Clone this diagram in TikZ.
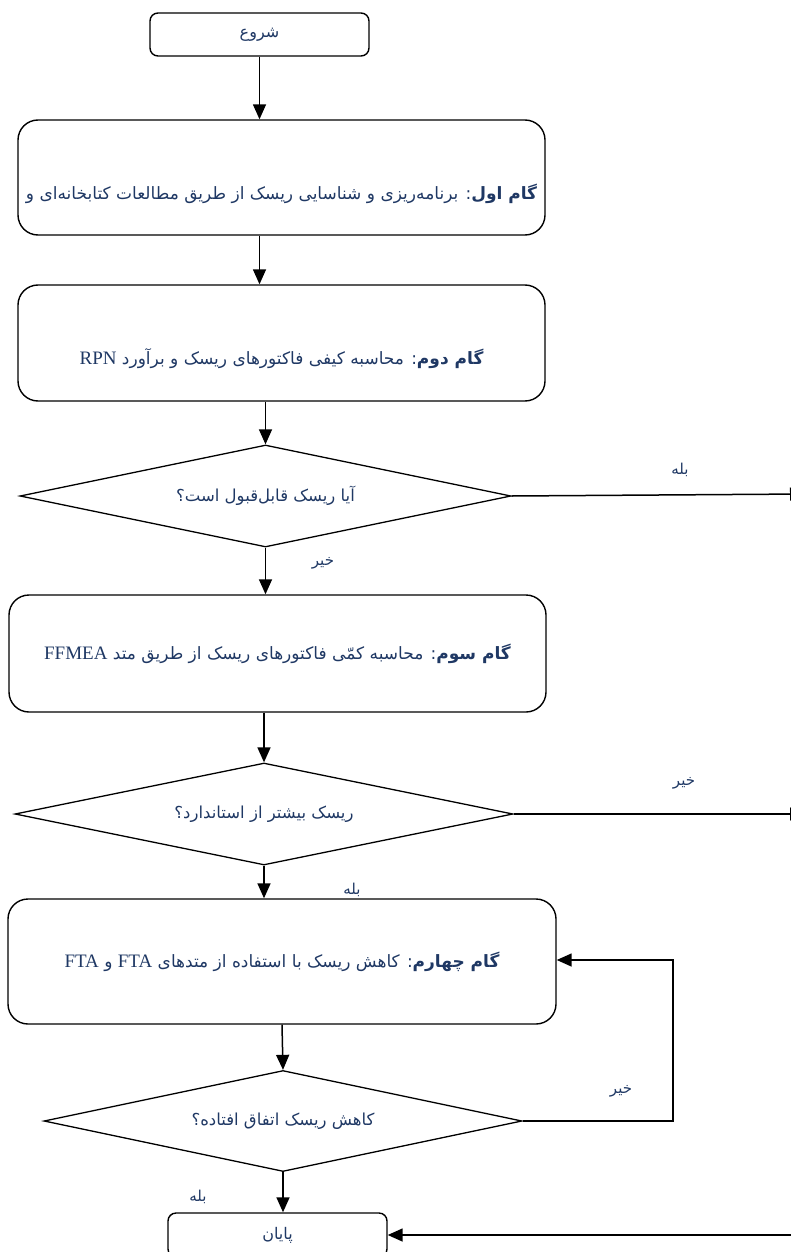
\documentclass[tikz,border=0pt]{standalone}
\usepackage{fontspec}
\setmainfont{Liberation Serif}
\newfontfamily\fa[Script=Arabic]{DejaVu Sans}
\TeXXeTstate=1
\usetikzlibrary{shapes.geometric,arrows.meta}
\definecolor{txt}{HTML}{1F3864}
\newcommand{\lat}[1]{{\normalfont\fontsize{19}{22}\selectfont\beginL #1\endL}}
\begin{document}
\begin{tikzpicture}[x=1pt,y=-1pt,
  box/.style={draw, line width=1.4pt, rounded corners=20pt, inner sep=0pt, text=txt, font=\fa\fontsize{17}{20}\selectfont},
  term/.style={draw, line width=1.4pt, rounded corners=8pt, inner sep=0pt, minimum width=219pt, text=txt, font=\fa\fontsize{16}{18}\selectfont},
  dec/.style={draw, diamond, aspect=4.8, line width=1.3pt, inner sep=0pt, text=txt, font=\fa\fontsize{16.5}{19}\selectfont},
  lbl/.style={text=txt, inner sep=0pt, font=\fa\fontsize{15}{17}\selectfont},
  arr/.style={line width=1.5pt, -{Triangle[length=15pt,width=13pt]}}]
\useasboundingbox (0,0) rectangle (791,1252);
% nodes
\node[term, minimum height=43pt] (start) at (259.5,34.5) {\beginR شروع\endR};
\node[box, minimum width=527pt, minimum height=115pt, text height=50pt, text depth=6pt] (s1) at (281.5,177.5) {\beginR{\bfseries گام اول}: برنامه‌ریزی و شناسایی ریسک از طریق مطالعات کتابخانه‌ای و\endR};
\node[box, minimum width=527pt, minimum height=116pt, text height=49pt, text depth=6pt] (s2) at (281.5,343) {\beginR{\bfseries گام دوم}: محاسبه کیفی فاکتورهای ریسک و برآورد \lat{RPN}\endR};
\node[dec, minimum width=491pt, minimum height=102pt] (d1) at (265.5,496) {\beginR آیا ریسک قابل‌قبول است؟\endR};
\node[box, minimum width=537pt, minimum height=117pt] (s3) at (277.5,653.5) {\beginR{\bfseries گام سوم}: محاسبه کمّی فاکتورهای ریسک از طریق متد \lat{FFMEA}\endR};
\node[dec, minimum width=498pt, minimum height=102pt] (d2) at (264,814) {\beginR ریسک بیشتر از استاندارد؟\endR};
\node[box, minimum width=548pt, minimum height=125pt] (s4) at (282,961.5) {\beginR{\bfseries گام چهارم}: کاهش ریسک با استفاده از متدهای \lat{FTA} و \lat{FTA}\endR};
\node[dec, minimum width=478pt, minimum height=101pt] (d3) at (283,1121) {\beginR کاهش ریسک اتفاق افتاده؟\endR};
\node[term, minimum height=44pt] (end) at (277.5,1235) {\beginR پایان\endR};
% free ends
\coordinate (r1) at (805,494);
\coordinate (r2) at (805,814);
\coordinate (fb) at (673,960);
\coordinate (r3) at (795,1235);
% connectors
\draw[arr] (start.south) -- (start.south |- s1.north);
\draw[arr] (s1.south -| start.south) -- (start.south |- s2.north);
\draw[arr] (s2.south -| d1.north) -- (d1.north);
\draw[arr] (d1.east) -- (r1);
\draw[arr] (d1.south) -- (d1.south |- s3.north);
\draw[arr] (s3.south -| d2.north) -- (d2.north);
\draw[arr] (d2.east) -- (r2);
\draw[arr] (d2.south) -- (d2.south |- s4.north);
\draw[arr] (s4.south) -- (d3.north);
\draw[arr] (d3.south) -- (d3.south |- end.north);
\draw[arr] (d3.east) -| (fb) -- (s4.east |- fb);
\draw[arr] (r3) -- (end.east);
% labels
\node[lbl] (l1) at (680,470) {\beginR بله\endR};
\node[lbl] (l2) at (323,563) {\beginR خیر\endR};
\node[lbl] (l3) at (684,783) {\beginR خیر\endR};
\node[lbl] (l4) at (352,890) {\beginR بله\endR};
\node[lbl] (l5) at (621,1091) {\beginR خیر\endR};
\node[lbl] (l6) at (198,1197) {\beginR بله\endR};
\end{tikzpicture}
\end{document}
